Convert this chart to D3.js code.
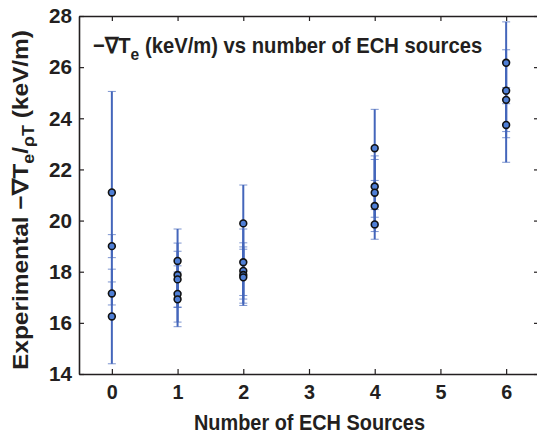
<!DOCTYPE html>
<html><head><meta charset="utf-8">
<script src="https://cdn.jsdelivr.net/npm/d3@7"></script>
<style>
html,body{margin:0;padding:0;background:#fff;}
svg{display:block;}
text{font-family:"Liberation Sans Narrow","Liberation Sans",Arial,sans-serif;font-weight:bold;fill:#231f20;}
</style></head>
<body>
<script>
// Data
const xTicks = [0,1,2,3,4,5,6];
const yTicks = [14,16,18,20,22,24,26,28];
const sources = [0,0,0,0, 1,1,1,1,1, 2,2,2,2,2, 4,4,4,4,4, 6,6,6,6];
const values  = [21.1,19.0,17.15,16.25, 18.42,17.87,17.70,17.13,16.92, 19.89,18.37,18.03,17.87,17.78, 22.83,21.33,21.09,20.57,19.85, 26.17,25.08,24.72,23.74];
const errors  = [3.95,0.45,0.45,1.85, 1.25,1.25,1.1,1.1,1.07, 1.5,1.3,1.1,1.1,1.1, 1.52,1.2,1.3,1.0,0.58, 1.6,1.6,1.48,1.46];

const W = 537, H = 435;
const m = {left:79, right:-2, top:16, bottom:61};
const svg = d3.select("body").append("svg").attr("width",W).attr("height",H);
const x = d3.scaleLinear().domain([-0.5,6.5]).range([m.left, W-m.right]);
const y = d3.scaleLinear().domain([14,28]).range([H-m.bottom, m.top]);

const axisColor = "#231f20";
function styleAxis(g){
  g.select(".domain").attr("stroke",axisColor).attr("stroke-width",1.6);
  g.selectAll(".tick line").attr("stroke",axisColor).attr("stroke-width",1.2);
  g.selectAll(".tick text").style("font-size","21px").attr("fill",axisColor);
}
svg.append("g").attr("transform",`translate(0,${y(14)})`)
  .call(d3.axisBottom(x).tickValues(xTicks).tickFormat(d3.format("d")).tickSize(-5).tickSizeOuter(0).tickPadding(10))
  .call(styleAxis)
  .selectAll(".tick text").attr("textLength",11).attr("lengthAdjust","spacingAndGlyphs");
svg.append("g").attr("transform",`translate(0,${y(28)})`)
  .call(d3.axisTop(x).tickValues(xTicks).tickFormat("").tickSize(-5).tickSizeOuter(0))
  .call(styleAxis);
svg.append("g").attr("transform",`translate(${x(-0.5)},0)`)
  .call(d3.axisLeft(y).tickValues(yTicks).tickFormat(d3.format("d")).tickSize(-5).tickSizeOuter(0).tickPadding(7))
  .call(styleAxis)
  .selectAll(".tick text").attr("textLength",23).attr("lengthAdjust","spacingAndGlyphs");
svg.append("g").attr("transform",`translate(${x(6.5)},0)`)
  .call(d3.axisRight(y).tickValues(yTicks).tickFormat("").tickSize(-5).tickSizeOuter(0))
  .call(styleAxis);

const pts = sources.map((s,i)=>({s, v:values[i], e:errors[i]}));
const lineColor = "#4466bb";
const eb = svg.append("g");
pts.forEach(p=>{
  eb.append("line").attr("x1",x(p.s)).attr("x2",x(p.s)).attr("y1",y(p.v-p.e)).attr("y2",y(p.v+p.e))
    .attr("stroke",lineColor).attr("stroke-width",2);
  [p.v-p.e,p.v+p.e].forEach(c=>{
    eb.append("line").attr("x1",x(p.s)-4).attr("x2",x(p.s)+4).attr("y1",y(c)).attr("y2",y(c))
      .attr("stroke",lineColor).attr("stroke-width",1).attr("stroke-opacity",0.7);
  });
});
svg.append("g").selectAll("circle").data(pts).join("circle")
  .attr("cx",d=>x(d.s)).attr("cy",d=>y(d.v)).attr("r",3.4)
  .attr("fill","#4f7fd6").attr("stroke","#111").attr("stroke-width",1.6);

// Title
const t = svg.append("text").attr("transform","translate(93,53) scale(0.92,1)").style("font-size","22px");
t.append("tspan").text("\u2212\u2207T");
t.append("tspan").attr("dy",7).style("font-size","17px").text("e");
t.append("tspan").attr("dy",-7).text(" (keV/m) vs number of ECH sources");

// Axis labels
svg.append("text").attr("x",194).attr("y",430).style("font-size","22px")
  .attr("textLength",231).attr("lengthAdjust","spacingAndGlyphs").text("Number of ECH Sources");
const yl = svg.append("text").attr("transform","translate(28,370) rotate(-90)").style("font-size","22px")
  .attr("textLength",340).attr("lengthAdjust","spacingAndGlyphs");
yl.append("tspan").text("Experimental \u2212\u2207T");
yl.append("tspan").attr("dy",6).style("font-size","16px").text("e");
yl.append("tspan").attr("dy",-6).text("/");
yl.append("tspan").attr("dy",6).style("font-size","16px").text("\u03c1T");
yl.append("tspan").attr("dy",-6).text(" (keV/m)");
</script>
</body></html>
